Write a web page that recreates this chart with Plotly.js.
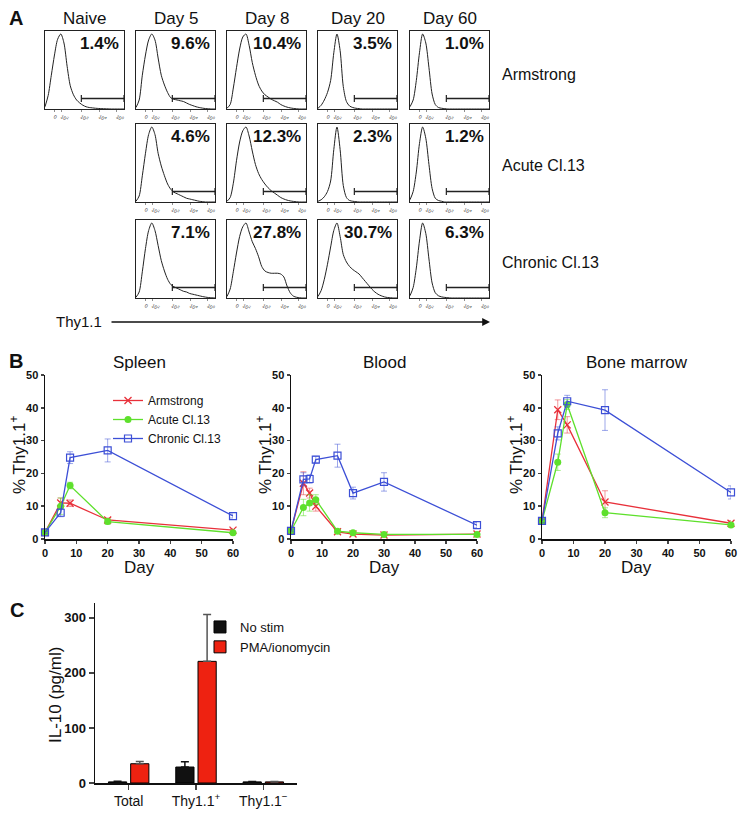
<!DOCTYPE html>
<html>
<head>
<meta charset="utf-8">
<script src="https://cdn.plot.ly/plotly-3.0.1.min.js"></script>
<style>
body { margin: 0; background: #fff; }
#fig { width: 751px; height: 816px; }
</style>
</head>
<body>
<div id="fig"></div>
<script>
// ---- panel A : Thy1.1 histograms ----
var columns = ['Naive', 'Day 5', 'Day 8', 'Day 20', 'Day 60'];
var infections = ['Armstrong', 'Acute Cl.13', 'Chronic Cl.13'];
var histX = [0, 4, 8, 12, 16, 20, 24, 28, 32, 36, 40, 44, 48, 52, 56, 60, 64, 68, 72, 76, 80, 84, 88, 92, 96, 100];
var histTicks = [12, 21, 46, 69, 91];
var histTickText = ['0', '10<sup>2</sup>', '10<sup>3</sup>', '10<sup>4</sup>', '10<sup>5</sup>'];
var gateX = [46, 100];
var gateY = [14, 14];

var naive  = [3, 18, 45, 72, 93, 100, 88, 57, 31, 19, 12, 8, 5, 3, 2, 1.5, 1, 0.7, 0.5, 0.3, 0.2, 0, 0, 0, 0, 0];
var armD5  = [2, 12, 45, 72, 92, 100, 92, 68, 45, 32, 22, 15, 13, 12, 11, 10, 8, 6, 4.5, 3, 2, 1.2, 0.6, 0.3, 0, 0];
var armD8  = [1, 6, 28, 55, 80, 96, 100, 85, 62, 45, 32, 24, 19, 16, 13, 11, 9, 6, 4, 2.5, 1.5, 0.8, 0.3, 0, 0, 0];
var armD20 = [1, 5, 12, 22, 38, 75, 100, 78, 30, 10, 4, 2, 1, 0.5, 0, 0, 0, 0, 0, 0, 0, 0, 0, 0, 0, 0];
var armD60 = [3, 12, 38, 75, 100, 88, 55, 20, 6, 2, 1, 0.5, 0, 0, 0, 0, 0, 0, 0, 0, 0, 0, 0, 0, 0, 0];
var acuD5  = [1, 8, 35, 65, 90, 100, 90, 65, 48, 35, 24, 17, 13, 11, 9, 7, 5, 4, 3, 2, 1, 0.5, 0, 0, 0, 0];
var acuD8  = [1, 6, 25, 55, 80, 95, 100, 88, 68, 50, 38, 30, 24, 19, 15, 12, 9, 6, 4, 2.5, 1.5, 0.8, 0.3, 0, 0, 0];
var acuD20 = [1, 3, 7, 14, 28, 70, 100, 70, 22, 6, 2, 1, 0.5, 0, 0, 0, 0, 0, 0, 0, 0, 0, 0, 0, 0, 0];
var acuD60 = [3, 14, 40, 78, 100, 85, 50, 18, 5, 2, 1, 0, 0, 0, 0, 0, 0, 0, 0, 0, 0, 0, 0, 0, 0, 0];
var chrD5  = [1, 8, 35, 66, 90, 100, 90, 70, 50, 36, 25, 18, 15, 13, 11, 9, 8, 6, 5, 4, 3, 2, 1.2, 0.6, 0.3, 0];
var chrD8  = [2, 12, 35, 60, 82, 95, 100, 88, 75, 66, 55, 42, 36, 34, 33, 33, 33, 32, 28, 16, 7, 2.5, 1, 0.3, 0, 0];
var chrD20 = [2, 10, 25, 45, 68, 90, 100, 82, 58, 48, 42, 38, 35, 32, 27, 22, 17, 12, 8, 5, 3, 1.5, 0.7, 0.3, 0, 0];
var chrD60 = [3, 14, 40, 76, 100, 86, 52, 20, 7, 3, 1.5, 0.8, 0.4, 0, 0, 0, 0, 0, 0, 0, 0, 0, 0, 0, 0, 0];

var hist = [[naive, armD5, armD8, armD20, armD60],
            [null, acuD5, acuD8, acuD20, acuD60],
            [null, chrD5, chrD8, chrD20, chrD60]];
var percents = [['1.4%', '9.6%', '10.4%', '3.5%', '1.0%'],
                [null, '4.6%', '12.3%', '2.3%', '1.2%'],
                [null, '7.1%', '27.8%', '30.7%', '6.3%']];

// ---- panel B : % Thy1.1+ over time ----
var seriesNames = ['Armstrong', 'Acute Cl.13', 'Chronic Cl.13'];

var spleenDays = [0, 5, 8, 20, 60];
var spleenArm = [2, 11, 10.9, 5.8, 2.7];
var spleenArmErr = [0.3, 1.5, 1, 0.6, 0.4];
var spleenAcu = [2, 10, 16.3, 5.3, 1.9];
var spleenAcuErr = [0.3, 2.5, 1, 0.8, 0.3];
var spleenChr = [2, 8, 24.8, 27, 7];
var spleenChrErr = [0.3, 1.2, 1.8, 3.5, 0.6];

var bloodDays = [0, 4, 6, 8, 15, 20, 30, 60];
var bloodArm = [2.5, 17, 14, 10, 2.2, 1.5, 1.2, 1.5];
var bloodArmErr = [0.3, 3.5, 1.5, 1.5, 0.4, 0.3, 0.2, 0.3];
var bloodAcu = [2.5, 9.6, 11, 12, 2.4, 1.9, 1.4, 1.4];
var bloodAcuErr = [0.3, 2.5, 2.5, 1.5, 0.4, 0.3, 0.2, 0.3];
var bloodChr = [2.5, 18.2, 18.3, 24.2, 25.4, 14, 17.4, 4.2];
var bloodChrErr = [0.3, 2, 1.3, 1, 3.5, 1.8, 2.8, 0.8];

var bmDays = [0, 5, 8, 20, 60];
var bmArm = [5.5, 39.4, 34.8, 11.3, 4.8];
var bmArmErr = [0.5, 3, 2.5, 3.4, 0.8];
var bmAcu = [5.5, 23.4, 41, 8, 4.3];
var bmAcuErr = [0.5, 2.5, 1.5, 1.5, 0.6];
var bmChr = [5.5, 32.2, 42, 39.3, 14.2];
var bmChrErr = [0.5, 2, 1.8, 6.2, 2];

// ---- panel C : IL-10 ----
var cCats = ['Total', 'Thy1.1<sup>+</sup>', 'Thy1.1<sup>\u2212</sup>'];
var noStim = [2, 29, 2];
var noStimErr = [1, 9.5, 0.8];
var pma = [35, 221, 2];
var pmaErr = [4, 85, 0.8];

var FONT = 'Liberation Sans, Arial, Helvetica, sans-serif';
var W = 751, H = 816;
function fx(px) { return px / W; }
function fy(py) { return 1 - py / H; }

var data = [];
var layout = {
    width: W, height: H,
    margin: {l: 0, r: 0, t: 0, b: 0},
    paper_bgcolor: 'white',
    plot_bgcolor: 'rgba(0,0,0,0)',
    font: {family: FONT, color: '#111'},
    barmode: 'group', bargap: 0.34, bargroupgap: 0.18,
    annotations: []
};

var n = 0;
function newAxes(x0, x1, y0, y1, xa, ya) {
    n++;
    var s = n === 1 ? '' : String(n);
    xa.domain = [fx(x0), fx(x1)];
    ya.domain = [fy(y1), fy(y0)];
    xa.anchor = 'y' + s;
    ya.anchor = 'x' + s;
    layout['xaxis' + s] = xa;
    layout['yaxis' + s] = ya;
    return s;
}
function note(text, px, py, opts) {
    var a = {text: text, x: fx(px), y: fy(py), xref: 'paper', yref: 'paper', showarrow: false,
        xanchor: 'center', yanchor: 'middle', font: {family: FONT, size: 16, color: '#111'}};
    for (var k in opts) a[k] = opts[k];
    layout.annotations.push(a);
}

// histograms
var colLeft = [45, 136, 227, 318, 410];
var rowTop = [31, 124, 220];
var boxW = 79, boxH = 78;
var r, c, s;
for (r = 0; r < 3; r++) {
    for (c = 0; c < 5; c++) {
        if (hist[r][c] === null) continue;
        s = newAxes(colLeft[c], colLeft[c] + boxW, rowTop[r], rowTop[r] + boxH,
            {range: [0, 100], showline: true, mirror: true, linecolor: '#222', linewidth: 1,
             showgrid: false, zeroline: false, tickvals: histTicks, ticktext: histTickText,
             ticks: 'outside', ticklen: 2, tickwidth: 0.6, tickcolor: '#444',
             tickfont: {size: 5, color: '#333'}},
            {range: [0, 104], showline: true, mirror: true, linecolor: '#222', linewidth: 1,
             showgrid: false, zeroline: false, showticklabels: false, ticks: ''});
        data.push({x: histX, y: hist[r][c], xaxis: 'x' + s, yaxis: 'y' + s, mode: 'lines',
            line: {color: '#222', width: 1, shape: 'spline', smoothing: 0.8},
            showlegend: false, hoverinfo: 'skip'});
        data.push({x: gateX, y: gateY, xaxis: 'x' + s, yaxis: 'y' + s, mode: 'lines+markers',
            line: {color: '#222', width: 1.5},
            marker: {symbol: 'line-ns-open', size: 5, color: '#222', line: {color: '#222', width: 1.2}},
            showlegend: false, hoverinfo: 'skip', cliponaxis: false});
        note(percents[r][c], colLeft[c] + boxW - 3, rowTop[r] + 1,
            {xanchor: 'right', yanchor: 'top', font: {family: FONT, size: 17, weight: 'bold', color: '#111'}});
    }
}
for (c = 0; c < 5; c++) {
    note(columns[c], colLeft[c] + boxW / 2, 18, {font: {family: FONT, size: 17, color: '#111'}});
}
var rowLabelY = [74, 166, 262];
for (r = 0; r < 3; r++) {
    note(infections[r], 500, rowLabelY[r], {xanchor: 'left', font: {family: FONT, size: 16, color: '#111'}});
}
note('A', 16, 18, {font: {family: FONT, size: 20, weight: 'bold', color: '#111'}});
note('Thy1.1', 104, 322, {xanchor: 'right', font: {family: FONT, size: 15, color: '#111'}});
layout.annotations.push({text: '', x: fx(490), y: fy(322), xref: 'paper', yref: 'paper',
    ax: -380, ay: 0, showarrow: true, arrowhead: 2, arrowsize: 1.2, arrowwidth: 1.3, arrowcolor: '#111'});

// time course panels
var armColor = '#e8303a', acuColor = '#5ee02c', chrColor = '#3c4fd6';
var errColors = ['rgba(232,48,58,0.5)', 'rgba(94,224,44,0.55)', 'rgba(60,79,214,0.5)'];
var lineColors = [armColor, acuColor, chrColor];
var markers = [
    {symbol: 'x-thin-open', size: 7, color: armColor, line: {color: armColor, width: 1.3}},
    {symbol: 'circle', size: 7, color: acuColor},
    {symbol: 'square-open', size: 7, color: chrColor, line: {color: chrColor, width: 1.2}}
];

function plotTissue(title, left, right, days, vals, errs, withLegend) {
    var s = newAxes(left, right, 375, 539,
        {range: [0, 60], dtick: 10, showline: true, linewidth: 1.5, linecolor: '#111',
         showgrid: false, zeroline: false, ticks: 'outside', ticklen: 3, tickwidth: 1.5,
         tickfont: {size: 11, weight: 'bold', color: '#111'}},
        {range: [0, 50], dtick: 10, showline: true, linewidth: 1.5, linecolor: '#111',
         showgrid: false, zeroline: false, ticks: 'outside', ticklen: 3, tickwidth: 1.5,
         tickfont: {size: 11, weight: 'bold', color: '#111'}});
    for (var i = 0; i < 3; i++) {
        data.push({x: days, y: vals[i], xaxis: 'x' + s, yaxis: 'y' + s,
            type: 'scatter', mode: 'lines+markers', name: seriesNames[i],
            line: {color: lineColors[i], width: 1.3}, marker: markers[i],
            error_y: {type: 'data', array: errs[i], visible: true, color: errColors[i], thickness: 1, width: 3},
            showlegend: withLegend, legend: 'legend', cliponaxis: false});
    }
    note(title, (left + right) / 2, 362, {font: {family: FONT, size: 17, color: '#111'}});
    note('Day', (left + right) / 2, 567, {font: {family: FONT, size: 17, color: '#111'}});
    note('% Thy1.1<sup>+</sup>', left - 27, 455, {textangle: -90, font: {family: FONT, size: 17, color: '#111'}});
}

plotTissue('Spleen', 45, 233, spleenDays,
    [spleenArm, spleenAcu, spleenChr], [spleenArmErr, spleenAcuErr, spleenChrErr], true);
plotTissue('Blood', 291, 477, bloodDays,
    [bloodArm, bloodAcu, bloodChr], [bloodArmErr, bloodAcuErr, bloodChrErr], false);
plotTissue('Bone marrow', 542, 731, bmDays,
    [bmArm, bmAcu, bmChr], [bmArmErr, bmAcuErr, bmChrErr], false);
note('B', 16, 361, {font: {family: FONT, size: 20, weight: 'bold', color: '#111'}});

layout.legend = {x: fx(108), y: fy(386), xanchor: 'left', yanchor: 'top',
    bgcolor: 'rgba(0,0,0,0)', font: {family: FONT, size: 12, color: '#111'}, itemwidth: 30, tracegroupgap: 0};

// IL-10 bars
s = newAxes(95, 297, 603, 783,
    {type: 'category', range: [-0.5, 2.5], showline: true, linewidth: 1.5, linecolor: '#111',
     showgrid: false, zeroline: false, ticks: 'outside', ticklen: 5, tickwidth: 1.5,
     tickfont: {size: 14, color: '#111'}},
    {range: [0, 327], tickvals: [0, 100, 200, 300], showline: true, linewidth: 1.5, linecolor: '#111',
     showgrid: false, zeroline: false, ticks: 'outside', ticklen: 5, tickwidth: 1.5,
     tickfont: {size: 13, weight: 'bold', color: '#111'}});
var zeros = [0, 0, 0];
data.push({x: cCats, y: noStim, type: 'bar', name: 'No stim', xaxis: 'x' + s, yaxis: 'y' + s,
    marker: {color: '#111', line: {color: '#000', width: 1}},
    error_y: {type: 'data', symmetric: false, array: noStimErr, arrayminus: zeros, color: '#111', thickness: 1.5, width: 4},
    legend: 'legend2'});
data.push({x: cCats, y: pma, type: 'bar', name: 'PMA/ionomycin', xaxis: 'x' + s, yaxis: 'y' + s,
    marker: {color: '#ee2211', line: {color: '#000', width: 1}},
    error_y: {type: 'data', symmetric: false, array: pmaErr, arrayminus: zeros, color: '#555', thickness: 1.5, width: 4},
    legend: 'legend2'});
layout.legend2 = {x: fx(200), y: fy(612), xanchor: 'left', yanchor: 'top',
    bgcolor: 'rgba(0,0,0,0)', font: {family: FONT, size: 13, color: '#111'}, tracegroupgap: 0};
note('IL-10 (pg/ml)', 55, 695, {textangle: -90, font: {family: FONT, size: 17, color: '#111'}});
note('C', 17, 610, {font: {family: FONT, size: 20, weight: 'bold', color: '#111'}});

Plotly.newPlot('fig', data, layout, {staticPlot: true});
</script>
</body>
</html>
